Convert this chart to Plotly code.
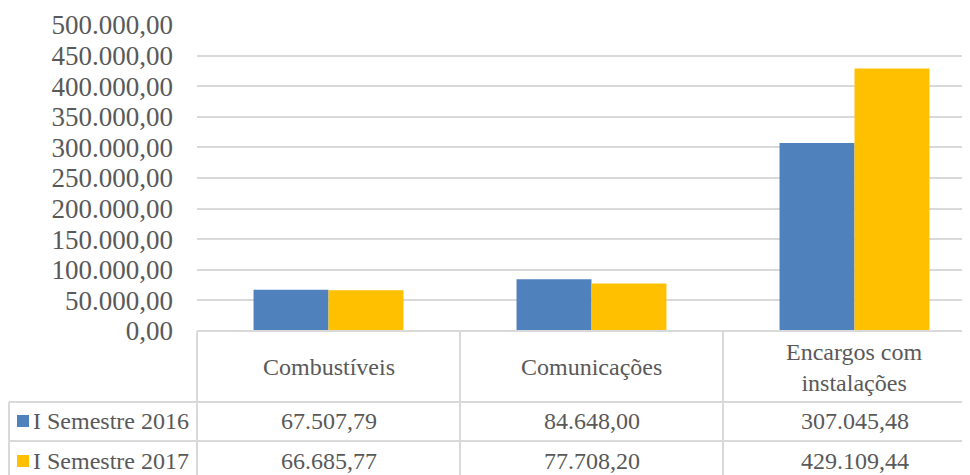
import plotly.graph_objects as go

categorias = ["Combustíveis", "Comunicações", "Encargos com<br>instalações"]
series = ["I Semestre 2016", "I Semestre 2017"]
valores_2016 = [67507.79, 84648.00, 307045.48]
valores_2017 = [66685.77, 77708.20, 429109.44]
cores = ["#4f81bd", "#ffc000"]

# a página tem margem de 8 px no body, por isso tudo é desenhado com esse desvio
OFF = 8
W, H = 970 - OFF, 475 - OFF
L, T = 197 - OFF, 25 - OFF
BASE = 331 - OFF            # linha do zero (topo da tabela)
B = H - BASE
PW = W - L
PH = BASE - T
FONTE = "Liberation Serif"
COR_TEXTO = "#595959"
COR_LINHA = "#d9d9d9"


def px_y(py):
    # py em pixels da página
    return (BASE - (py - OFF)) / PH


def px_x(px):
    return (px - OFF - L) / PW


def fmt(v):
    s = f"{v:,.2f}"
    return s.replace(",", "X").replace(".", ",").replace("X", ".")


x = list(range(len(categorias)))

fig = go.Figure()
for nome, vals, cor in zip(series, [valores_2016, valores_2017], cores):
    fig.add_trace(go.Bar(x=x, y=vals, name=nome, marker_color=cor,
                         marker_line_width=0, showlegend=False))

# largura de cada categoria na tabela = 263 px
cat_w = 263
fig.update_layout(
    width=W, height=H,
    margin=dict(l=L, r=0, t=T, b=B),
    plot_bgcolor="white", paper_bgcolor="white",
    barmode="group", bargap=0.43, bargroupgap=0,
    separators=",.",
    font=dict(family=FONTE, color=COR_TEXTO),
    xaxis=dict(range=[-0.5, -0.5 + PW / cat_w], showticklabels=False,
               showgrid=False, zeroline=False, showline=False, ticks=""),
    yaxis=dict(range=[0, 500000], dtick=50000, tickformat=",.2f",
               showgrid=True, gridcolor=COR_LINHA, gridwidth=1.5,
               zeroline=False, showline=False, ticks="",
               ticklabelstandoff=23,
               tickfont=dict(family=FONTE, size=27, color=COR_TEXTO)),
)

# linhas da tabela de dados
linhas = []
y_top = px_y(331)
y_r1 = px_y(402)
y_r2 = px_y(441)
y_bot = px_y(481)
x_left = px_x(9)
linhas.append(dict(type="line", xref="paper", yref="paper", x0=0, x1=1, y0=y_top, y1=y_top))
for yy in [y_r1, y_r2, y_bot]:
    linhas.append(dict(type="line", xref="paper", yref="paper", x0=x_left, x1=1, y0=yy, y1=yy))
linhas.append(dict(type="line", xref="paper", yref="paper", x0=0, x1=0, y0=y_top, y1=y_bot))
linhas.append(dict(type="line", xref="paper", yref="paper", x0=x_left, x1=x_left, y0=y_r1, y1=y_bot))
for xv in [0.5, 1.5]:
    linhas.append(dict(type="line", xref="x", yref="paper", x0=xv, x1=xv, y0=y_top, y1=y_bot))
for s in linhas:
    s["line"] = dict(color=COR_LINHA, width=2)
    fig.add_shape(**s)

anot = []
for i, c in enumerate(categorias):
    anot.append(dict(x=i, y=px_y(367), xref="x", yref="paper", text=c,
                     showarrow=False, font=dict(size=24), yanchor="middle"))

for linha_y, nome, vals, cor in zip([421, 461], series, [valores_2016, valores_2017], cores):
    fig.add_shape(type="rect", xref="paper", yref="paper",
                  x0=px_x(17), x1=px_x(29), y0=px_y(linha_y - 6), y1=px_y(linha_y + 6),
                  fillcolor=cor, line_width=0)
    anot.append(dict(x=px_x(31), y=px_y(linha_y), xref="paper", yref="paper", text=nome,
                     showarrow=False, xanchor="left", font=dict(size=24), yanchor="middle"))
    for i, v in enumerate(vals):
        anot.append(dict(x=i, y=px_y(linha_y), xref="x", yref="paper", text=fmt(v),
                         showarrow=False, font=dict(size=24), yanchor="middle"))

fig.update_layout(annotations=anot)

fig.write_html("out.html")
